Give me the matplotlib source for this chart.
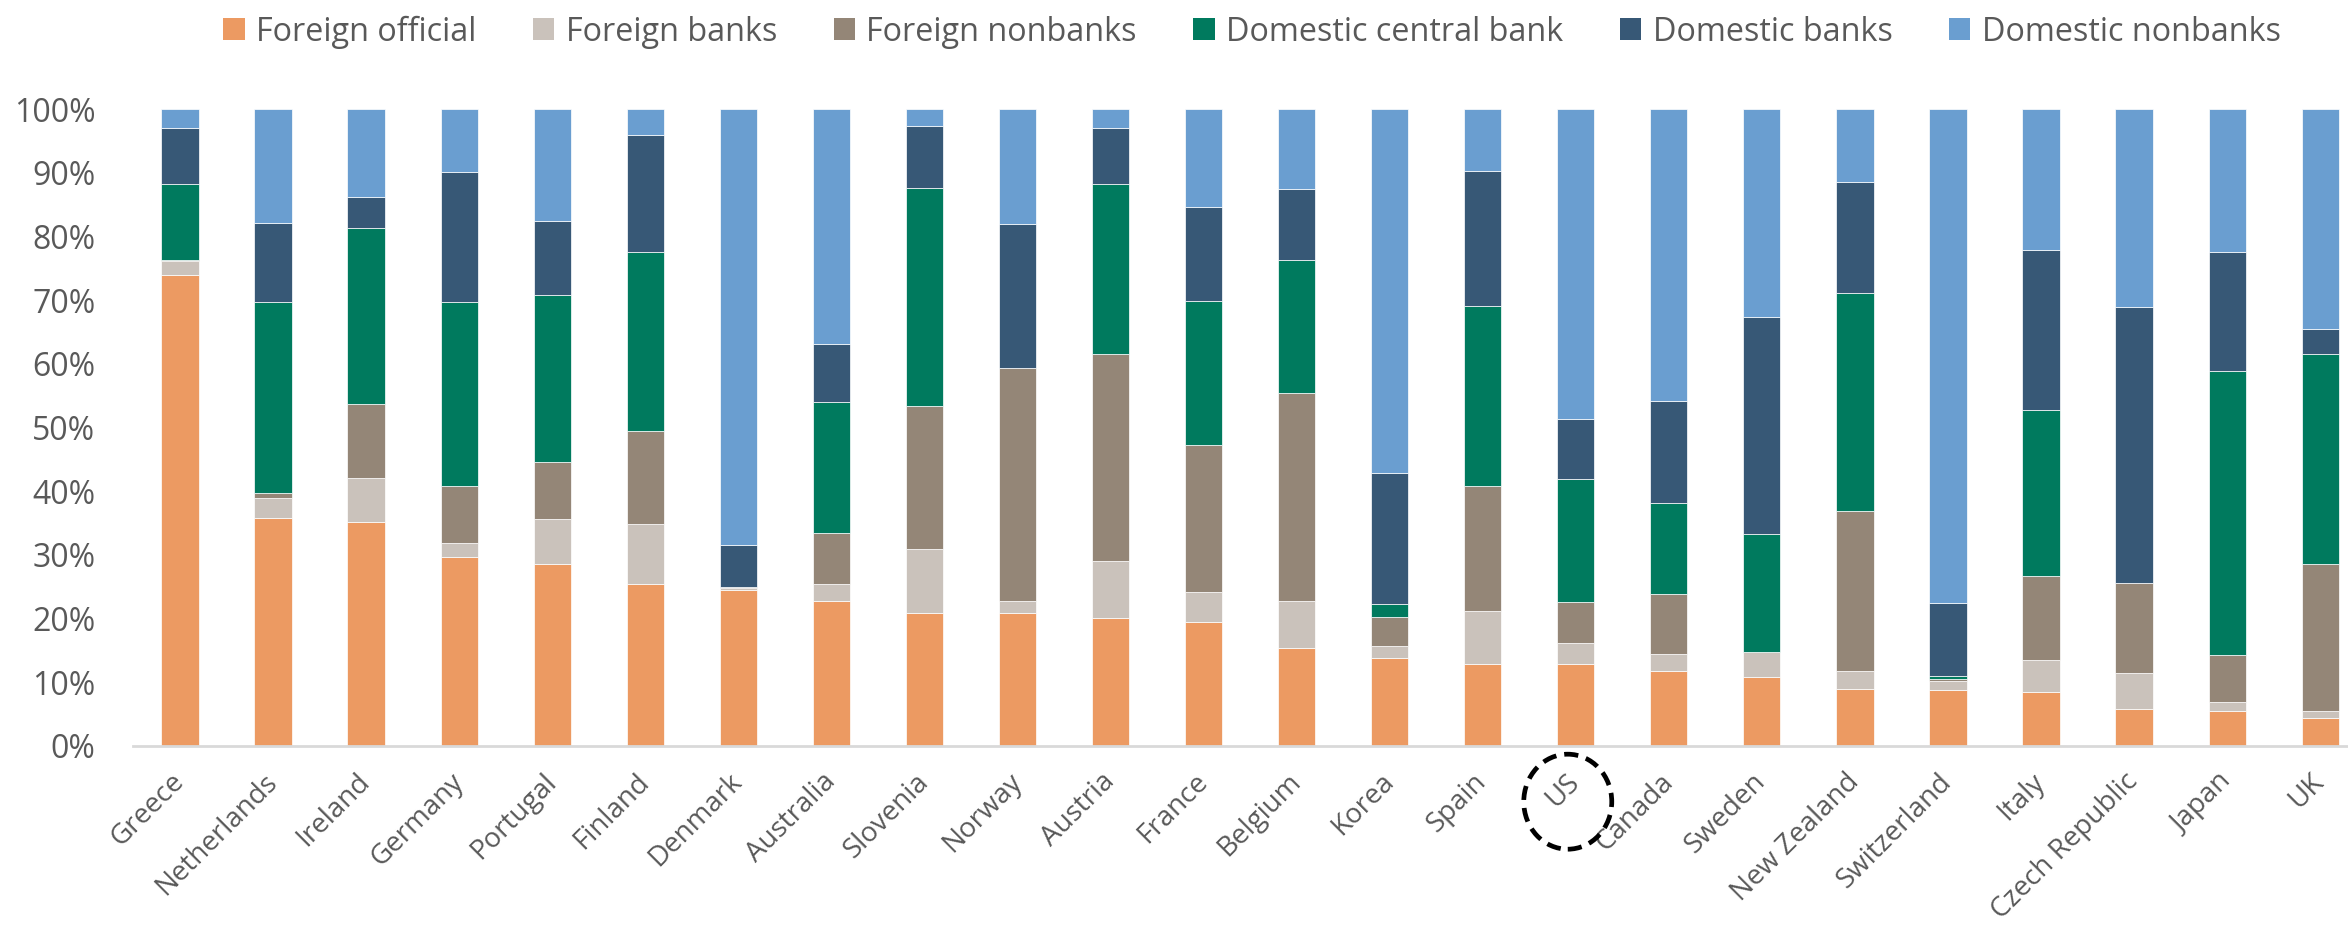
import matplotlib
matplotlib.use("Agg")
import matplotlib.pyplot as plt
from matplotlib.patches import Ellipse, Patch
from matplotlib.transforms import IdentityTransform
import numpy as np

# Holders of government debt, share of total (%)
countries = ["Greece", "Netherlands", "Ireland", "Germany", "Portugal", "Finland",
             "Denmark", "Australia", "Slovenia", "Norway", "Austria", "France",
             "Belgium", "Korea", "Spain", "US", "Canada", "Sweden", "New Zealand",
             "Switzerland", "Italy", "Czech Republic", "Japan", "UK"]

foreign_official = [73.9, 35.8, 35.1, 29.7, 28.6, 25.4, 24.5, 22.8, 20.9, 20.8, 20.1, 19.5,
                    15.4, 13.8, 12.8, 12.8, 11.7, 10.8, 8.9, 8.7, 8.5, 5.7, 5.5, 4.4]
foreign_banks = [2.2, 3.1, 7.0, 2.2, 7.1, 9.4, 0.3, 2.6, 10.0, 2.0, 8.9, 4.6,
                 7.4, 1.9, 8.3, 3.3, 2.7, 4.0, 2.8, 1.5, 5.0, 5.8, 1.4, 1.1]
foreign_nonbanks = [0.2, 0.8, 11.6, 8.9, 8.9, 14.6, 0.1, 8.0, 22.5, 36.6, 32.6, 23.1,
                    32.6, 4.5, 19.7, 6.5, 9.5, 0.0, 25.2, 0.3, 13.2, 14.0, 7.4, 23.1]
domestic_central_bank = [12.0, 30.0, 27.6, 28.9, 26.2, 28.1, 0.1, 20.6, 34.3, 0.0, 26.7, 22.7,
                         20.9, 2.0, 28.3, 19.3, 14.2, 18.4, 34.3, 0.4, 26.1, 0.0, 44.5, 33.0]
domestic_banks = [8.8, 12.4, 4.9, 20.4, 11.6, 18.5, 6.6, 9.1, 9.6, 22.5, 8.7, 14.8,
                  11.1, 20.7, 21.2, 9.4, 16.1, 34.1, 17.3, 11.5, 25.1, 43.5, 18.8, 3.8]
domestic_nonbanks = [2.9, 17.9, 13.8, 9.9, 17.6, 4.0, 68.4, 36.9, 2.7, 18.1, 3.0, 15.3,
                     12.6, 57.1, 9.7, 48.7, 45.8, 32.7, 11.5, 77.6, 22.1, 31.0, 22.4, 34.6]

series_names = ["Foreign official", "Foreign banks", "Foreign nonbanks",
                "Domestic central bank", "Domestic banks", "Domestic nonbanks"]
series_values = [foreign_official, foreign_banks, foreign_nonbanks,
                 domestic_central_bank, domestic_banks, domestic_nonbanks]
series_colors = ["#EC9A62", "#CAC2BB", "#948677", "#007A5E", "#375876", "#6A9ED0"]

y_ticks = [0, 10, 20, 30, 40, 50, 60, 70, 80, 90, 100]
y_tick_labels = [f"{t}%" for t in y_ticks]
highlight = "US"

TEXT = "#595959"
plt.rcParams["font.family"] = ["Open Sans", "DejaVu Sans"]

W, H = 2348, 926
fig = plt.figure(figsize=(W / 100, H / 100), dpi=100)
ax = fig.add_axes([133 / W, (H - 745.7) / H, 2233.7 / W, (745.7 - 109.3) / H])

x = np.arange(len(countries))
bottom = np.zeros(len(countries))
for name, vals, col in zip(series_names, series_values, series_colors):
    v = np.array(vals)
    ax.bar(x, v, width=0.40, bottom=bottom, color=col, edgecolor="white",
           linewidth=0.5, label=name, zorder=2)
    bottom += v

ax.set_xlim(-0.505, len(countries) - 0.5)
ax.set_ylim(0, 100)

ax.set_yticks(y_ticks)
ax.set_yticklabels(y_tick_labels, fontsize=23, color=TEXT)
ax.tick_params(axis="y", length=0, pad=27)

ax.set_xticks(x)
ax.set_xticklabels(countries, fontsize=20, color=TEXT, rotation=45,
                   ha="right", va="center", rotation_mode="anchor")
ax.tick_params(axis="x", length=0, pad=23)

for s in ["top", "right", "left"]:
    ax.spines[s].set_visible(False)
ax.spines["bottom"].set_color("#D9D9D9")
ax.spines["bottom"].set_linewidth(2)
ax.spines["bottom"].set_zorder(3)

handles = [Patch(facecolor=c, edgecolor="none") for c in series_colors]
fig.legend(handles, series_names, loc="center", bbox_to_anchor=(1252 / W, 1 - 32 / H),
           ncol=6, frameon=False, fontsize=23.3, labelcolor=TEXT,
           handlelength=0.66, handleheight=0.66, handletextpad=0.35,
           columnspacing=1.75, borderpad=0)

# dashed ring around the highlighted country label
fig.canvas.draw()
i = countries.index(highlight)
xd, yd = ax.transData.transform((i, 0))
ring = Ellipse((xd - 8, yd - 56), 88, 95, transform=IdentityTransform(),
               fill=False, edgecolor="black", linewidth=3.4, linestyle=(0, (3.0, 1.7)))
fig.add_artist(ring)

fig.savefig("out.png", dpi=100, facecolor="white")
